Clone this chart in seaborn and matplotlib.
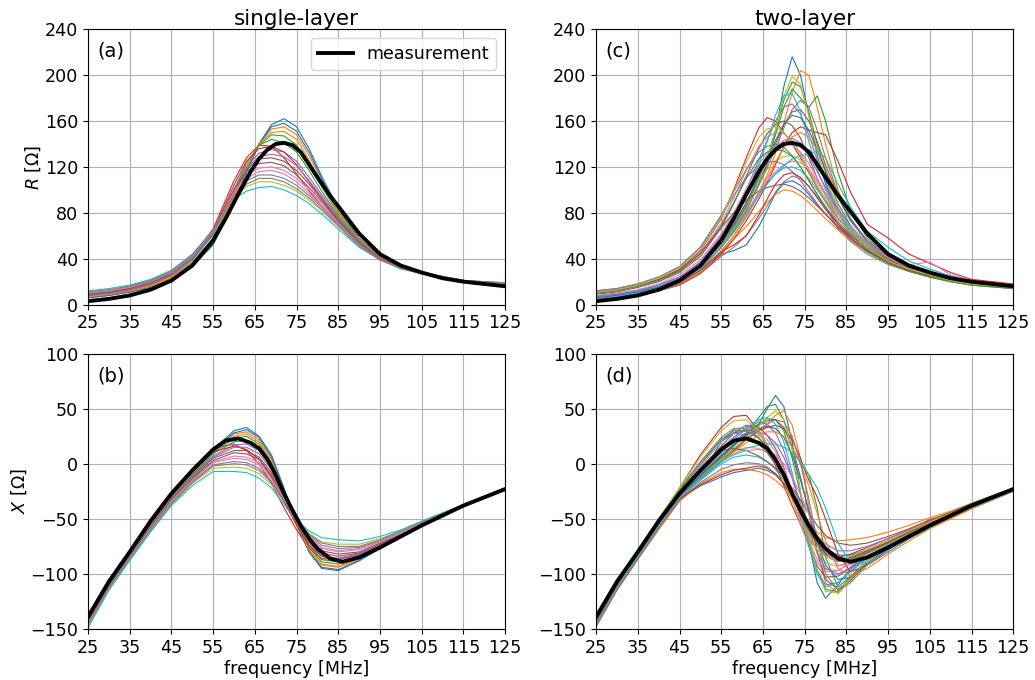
import matplotlib
matplotlib.use("Agg")
import matplotlib.pyplot as plt
import seaborn as sns
import pandas as pd

# frequency grids [MHz]
freq_single = [25, 30, 35, 40, 45, 50, 55, 60, 63, 66, 69, 72, 75, 78, 81, 85, 90, 95, 100, 105, 115, 125]
freq_two = [25, 30, 35, 40, 45, 50, 55, 58, 61, 64, 66, 68, 70, 72, 74, 76, 78, 80, 83, 86, 90, 95, 100, 105, 110, 115, 125]

# measured impedance (on freq_two)
meas_R = [3, 5, 8, 13, 21, 34, 56, 75, 96, 116, 127, 135, 140, 141, 139, 133, 122, 111, 95, 81, 62, 44, 34, 28, 23, 20, 16]
meas_X = [-139, -107, -80, -52, -27, -6, 13, 21, 23, 19, 14, 4, -10, -27, -42, -56, -68, -77, -86, -89, -85, -76, -66, -56, -47, -38, -23]

# single-layer ensemble (on freq_single)
single_R = [
    [6, 8, 11, 15, 22, 33, 52, 88, 115, 140, 157, 162, 155, 136, 112, 84, 58, 42, 33, 28, 21, 18],
    [7, 9, 12, 16, 23, 35, 55, 92, 118, 140, 153, 155, 148, 130, 108, 81, 57, 41, 33, 28, 21, 18],
    [8, 10, 13, 17, 25, 37, 58, 96, 120, 139, 148, 147, 139, 122, 103, 79, 56, 41, 33, 28, 21, 18],
    [9, 11, 14, 19, 28, 42, 66, 108, 128, 139, 138, 128, 114, 99, 86, 71, 53, 40, 32, 27, 20, 17],
    [8, 10, 13, 18, 26, 39, 61, 99, 120, 132, 135, 133, 125, 111, 96, 76, 55, 40, 32, 27, 21, 18],
    [9, 11, 14, 19, 27, 41, 63, 100, 118, 127, 128, 125, 117, 105, 92, 74, 54, 40, 32, 27, 21, 18],
    [10, 12, 15, 20, 28, 42, 64, 99, 113, 119, 120, 117, 110, 100, 88, 72, 53, 40, 32, 27, 21, 18],
    [10, 12, 16, 21, 29, 43, 65, 97, 108, 113, 113, 110, 104, 95, 85, 70, 52, 39, 32, 27, 21, 18],
    [11, 13, 16, 21, 29, 43, 65, 94, 103, 107, 107, 104, 99, 91, 82, 68, 51, 39, 32, 27, 21, 19],
    [12, 14, 17, 22, 30, 44, 65, 92, 99, 102, 103, 100, 95, 88, 79, 66, 50, 39, 31, 27, 21, 19],
    [6, 8, 11, 15, 22, 34, 53, 90, 116, 140, 155, 158, 151, 133, 110, 83, 57, 41, 33, 28, 21, 18],
    [7, 9, 12, 16, 24, 36, 57, 94, 119, 140, 150, 151, 144, 126, 105, 80, 57, 41, 33, 28, 21, 18],
    [8, 10, 13, 18, 26, 39, 61, 100, 123, 139, 144, 141, 133, 117, 99, 77, 55, 40, 32, 27, 21, 18],
    [9, 11, 14, 19, 27, 41, 64, 104, 125, 136, 138, 133, 122, 107, 92, 73, 54, 40, 32, 27, 21, 17],
    [8, 10, 13, 18, 26, 40, 62, 100, 119, 129, 131, 129, 121, 108, 94, 75, 54, 40, 32, 27, 21, 18],
    [9, 11, 15, 20, 28, 42, 64, 100, 116, 123, 124, 121, 113, 102, 90, 73, 53, 40, 32, 27, 21, 18],
    [10, 12, 15, 20, 28, 42, 64, 98, 110, 116, 117, 114, 107, 97, 86, 71, 52, 39, 32, 27, 21, 18],
    [11, 13, 16, 21, 29, 43, 65, 95, 105, 110, 110, 107, 101, 93, 83, 69, 51, 39, 32, 27, 21, 19],
]
single_X = [
    [-142, -110, -82, -55, -30, -8, 13, 30, 33, 25, 8, -22, -55, -80, -95, -97, -88, -77, -66, -56, -38, -22],
    [-142, -110, -82, -55, -30, -9, 12, 27, 29, 22, 4, -25, -55, -79, -92, -94, -87, -76, -66, -56, -38, -22],
    [-143, -110, -83, -56, -31, -10, 10, 23, 25, 18, 1, -25, -53, -76, -89, -91, -85, -75, -65, -55, -38, -22],
    [-141, -108, -80, -53, -28, -6, 14, 18, 12, 0, -18, -40, -60, -77, -86, -87, -82, -74, -65, -55, -37, -22],
    [-143, -111, -83, -57, -32, -12, 7, 17, 18, 12, -3, -26, -52, -72, -84, -87, -83, -74, -65, -55, -38, -22],
    [-144, -112, -84, -58, -33, -13, 5, 12, 12, 6, -8, -28, -52, -70, -81, -84, -81, -73, -64, -55, -38, -22],
    [-145, -112, -85, -59, -34, -15, 2, 7, 6, 1, -12, -31, -52, -68, -77, -80, -78, -71, -63, -54, -37, -22],
    [-146, -113, -86, -60, -35, -16, -1, 2, 1, -4, -16, -33, -51, -65, -74, -77, -76, -70, -62, -54, -37, -22],
    [-147, -114, -87, -61, -37, -18, -4, -3, -4, -9, -19, -35, -51, -63, -71, -73, -73, -68, -61, -53, -37, -22],
    [-149, -115, -88, -62, -38, -20, -7, -7, -8, -13, -22, -37, -51, -61, -67, -69, -70, -66, -60, -52, -37, -22],
    [-142, -110, -82, -55, -30, -8, 13, 28, 31, 24, 6, -24, -55, -80, -94, -96, -88, -77, -66, -56, -38, -22],
    [-142, -110, -82, -55, -30, -9, 11, 25, 27, 20, 3, -25, -54, -78, -91, -93, -86, -76, -66, -56, -38, -22],
    [-143, -110, -83, -56, -31, -11, 9, 20, 21, 15, -1, -26, -53, -74, -87, -89, -84, -75, -65, -55, -38, -22],
    [-142, -109, -81, -54, -29, -8, 11, 16, 13, 4, -12, -34, -56, -74, -84, -86, -82, -74, -65, -55, -37, -22],
    [-144, -111, -83, -57, -32, -12, 6, 15, 15, 9, -5, -27, -52, -71, -83, -86, -82, -74, -65, -55, -38, -22],
    [-144, -112, -84, -58, -33, -14, 3, 10, 9, 4, -10, -30, -52, -69, -79, -82, -80, -72, -64, -55, -38, -22],
    [-145, -113, -85, -59, -34, -15, 1, 5, 4, -1, -14, -32, -51, -66, -76, -79, -77, -71, -63, -54, -37, -22],
    [-146, -113, -86, -60, -36, -17, -2, 0, -1, -6, -17, -34, -51, -64, -72, -75, -75, -69, -61, -53, -37, -22],
]

# two-layer ensemble (on freq_two)
two_R = [
    [5, 7, 10, 14, 20, 31, 50, 64, 82, 105, 122, 150, 190, 216, 200, 165, 130, 105, 80, 63, 48, 37, 30, 25, 21, 19, 16],
    [4, 6, 9, 13, 18, 28, 46, 60, 77, 98, 113, 132, 158, 185, 204, 200, 172, 140, 100, 75, 55, 41, 32, 26, 22, 19, 16],
    [6, 8, 11, 15, 22, 34, 55, 70, 88, 110, 126, 148, 172, 188, 180, 172, 182, 160, 115, 82, 58, 42, 33, 27, 22, 19, 16],
    [11, 13, 17, 22, 31, 47, 75, 100, 128, 154, 163, 160, 150, 140, 128, 115, 102, 90, 75, 63, 50, 39, 32, 27, 22, 19, 15],
    [7, 9, 12, 17, 24, 37, 60, 78, 100, 126, 143, 160, 172, 175, 166, 148, 126, 107, 84, 67, 51, 39, 31, 26, 22, 19, 16],
    [9, 11, 15, 20, 28, 42, 67, 88, 112, 136, 149, 157, 160, 156, 145, 128, 110, 95, 76, 62, 48, 37, 30, 25, 21, 18, 15],
    [10, 12, 16, 21, 30, 45, 71, 93, 117, 138, 146, 150, 149, 143, 132, 118, 103, 89, 72, 59, 46, 36, 29, 24, 20, 17, 14],
    [12, 14, 18, 24, 33, 50, 78, 98, 118, 133, 138, 140, 137, 130, 120, 108, 96, 85, 66, 55, 44, 35, 29, 24, 20, 17, 14],
    [6, 8, 11, 15, 22, 34, 55, 71, 89, 108, 118, 125, 129, 130, 126, 118, 107, 95, 79, 66, 52, 40, 32, 27, 22, 19, 16],
    [5, 7, 10, 14, 20, 31, 50, 64, 80, 97, 106, 114, 119, 120, 117, 110, 100, 90, 76, 64, 51, 40, 32, 27, 22, 19, 16],
    [4, 6, 9, 13, 19, 30, 44, 47, 52, 68, 82, 97, 106, 108, 104, 96, 87, 79, 67, 58, 47, 38, 31, 26, 22, 19, 16],
    [3, 5, 8, 12, 18, 29, 46, 57, 68, 81, 89, 96, 100, 99, 95, 89, 82, 75, 65, 56, 46, 37, 30, 25, 21, 18, 15],
    [5, 7, 10, 14, 20, 31, 51, 66, 85, 110, 128, 152, 178, 194, 190, 168, 140, 115, 88, 69, 52, 40, 32, 26, 22, 19, 16],
    [4, 6, 8, 12, 17, 27, 44, 57, 73, 92, 106, 122, 138, 150, 155, 152, 150, 148, 125, 98, 70, 58, 44, 36, 28, 22, 18],
    [12, 14, 18, 24, 33, 50, 77, 95, 111, 121, 124, 125, 122, 116, 108, 98, 88, 79, 67, 57, 46, 37, 30, 25, 21, 18, 15],
    [6, 8, 11, 15, 21, 33, 53, 68, 86, 108, 123, 140, 157, 168, 170, 160, 142, 122, 95, 74, 55, 41, 32, 27, 22, 19, 16],
    [8, 10, 13, 18, 26, 39, 62, 80, 101, 122, 132, 138, 140, 139, 133, 123, 110, 97, 80, 66, 52, 42, 35, 37, 26, 21, 17],
    [3, 5, 8, 12, 17, 27, 42, 50, 60, 75, 86, 98, 107, 112, 110, 103, 94, 85, 72, 61, 50, 40, 32, 27, 22, 19, 16],
    [5, 7, 10, 14, 20, 31, 50, 65, 84, 108, 126, 152, 182, 199, 192, 165, 135, 110, 85, 67, 51, 39, 31, 26, 22, 19, 16],
    [7, 9, 12, 16, 23, 35, 57, 74, 95, 122, 142, 165, 182, 184, 168, 142, 118, 100, 80, 65, 50, 39, 31, 26, 22, 19, 16],
    [6, 8, 11, 15, 22, 34, 55, 70, 89, 112, 127, 143, 157, 165, 163, 152, 135, 117, 93, 73, 55, 41, 32, 27, 22, 19, 16],
    [4, 6, 9, 13, 19, 29, 47, 60, 76, 96, 110, 124, 137, 146, 150, 146, 135, 120, 98, 80, 60, 45, 35, 29, 24, 20, 17],
    [10, 12, 16, 21, 29, 44, 69, 89, 110, 127, 133, 135, 134, 129, 120, 108, 96, 85, 70, 58, 46, 36, 29, 24, 20, 17, 14],
    [4, 6, 9, 13, 19, 30, 46, 52, 60, 78, 92, 105, 113, 115, 111, 103, 93, 83, 70, 60, 49, 39, 31, 26, 22, 19, 16],
    [7, 9, 12, 17, 24, 37, 59, 76, 96, 118, 129, 137, 143, 145, 141, 130, 116, 102, 83, 68, 53, 41, 32, 27, 22, 19, 16],
    [11, 13, 17, 22, 30, 45, 67, 80, 91, 99, 102, 104, 105, 103, 99, 93, 86, 79, 68, 58, 47, 37, 30, 25, 21, 18, 15],
    [5, 7, 10, 14, 20, 31, 50, 64, 80, 98, 108, 116, 122, 125, 124, 118, 108, 97, 81, 68, 54, 41, 33, 27, 22, 19, 16],
    [5, 7, 10, 14, 20, 31, 50, 64, 82, 104, 119, 136, 154, 170, 178, 172, 152, 128, 97, 75, 56, 42, 33, 27, 22, 19, 16],
    [11, 13, 17, 23, 32, 48, 76, 98, 124, 146, 153, 155, 150, 141, 130, 117, 104, 92, 76, 63, 49, 38, 31, 26, 21, 18, 15],
    [5, 7, 10, 14, 20, 31, 50, 63, 78, 95, 105, 114, 121, 127, 130, 131, 134, 128, 105, 85, 64, 50, 38, 31, 25, 20, 17],
]
two_X = [
    [-145, -112, -84, -56, -31, -12, 20, 28, 30, 36, 50, 62, 52, 20, -25, -72, -108, -122, -110, -95, -84, -74, -64, -55, -46, -38, -24],
    [-146, -113, -85, -57, -32, -14, 2, 12, 22, 30, 36, 44, 48, 35, 5, -38, -80, -108, -118, -105, -88, -75, -64, -54, -46, -38, -24],
    [-144, -111, -83, -55, -29, -10, 8, 18, 28, 42, 52, 54, 40, 15, 0, -10, -40, -85, -112, -102, -88, -76, -65, -55, -46, -38, -23],
    [-141, -108, -79, -50, -22, 8, 33, 43, 44, 30, 15, -2, -20, -38, -55, -68, -78, -83, -85, -82, -76, -68, -60, -52, -45, -37, -23],
    [-144, -111, -83, -55, -29, -9, 10, 22, 32, 38, 36, 28, 12, -12, -42, -72, -97, -110, -108, -98, -86, -75, -64, -55, -46, -38, -24],
    [-143, -110, -82, -53, -26, -5, 16, 28, 35, 33, 26, 14, -3, -25, -50, -75, -93, -103, -102, -94, -84, -74, -64, -55, -46, -38, -24],
    [-142, -109, -80, -52, -25, -3, 20, 31, 34, 27, 18, 4, -13, -33, -55, -75, -90, -98, -97, -90, -82, -73, -63, -54, -46, -37, -23],
    [-141, -108, -79, -51, -23, 2, 24, 32, 32, 24, 15, 3, -12, -28, -45, -60, -72, -81, -87, -86, -80, -71, -62, -53, -45, -37, -23],
    [-145, -112, -84, -56, -30, -12, 4, 11, 15, 14, 10, 2, -10, -26, -45, -64, -80, -90, -93, -89, -81, -72, -63, -54, -46, -38, -24],
    [-146, -113, -85, -57, -32, -15, 0, 6, 8, 6, 2, -5, -15, -28, -43, -58, -71, -80, -86, -85, -79, -71, -62, -53, -45, -37, -23],
    [-147, -114, -86, -58, -32, -20, -12, -8, -6, -4, -6, -10, -18, -29, -42, -56, -68, -77, -83, -83, -78, -70, -62, -53, -45, -37, -23],
    [-148, -115, -87, -60, -34, -18, -8, -5, -5, -7, -10, -15, -22, -32, -43, -54, -62, -67, -70, -69, -67, -62, -56, -49, -43, -36, -22],
    [-145, -112, -84, -56, -30, -12, 5, 16, 27, 36, 41, 40, 30, 5, -28, -65, -97, -114, -116, -103, -88, -75, -64, -55, -46, -38, -24],
    [-146, -113, -85, -57, -31, -14, 2, 12, 22, 30, 33, 35, 32, 22, 5, -15, -30, -50, -82, -98, -92, -80, -68, -58, -49, -40, -25],
    [-141, -108, -79, -51, -23, 1, 22, 28, 26, 18, 10, -1, -13, -27, -41, -54, -65, -73, -79, -79, -75, -68, -60, -52, -45, -37, -23],
    [-145, -112, -84, -56, -30, -11, 6, 17, 27, 35, 39, 40, 33, 15, -12, -45, -80, -105, -114, -106, -90, -77, -66, -56, -47, -39, -24],
    [-144, -111, -82, -54, -27, -6, 14, 25, 30, 28, 22, 11, -5, -25, -48, -70, -87, -96, -97, -90, -81, -72, -62, -50, -47, -39, -24],
    [-147, -114, -86, -58, -33, -17, -5, -1, 1, 0, -3, -9, -18, -31, -46, -61, -74, -84, -89, -87, -80, -71, -62, -53, -45, -37, -23],
    [-145, -112, -84, -56, -30, -12, 4, 14, 24, 34, 42, 48, 40, 12, -25, -65, -98, -116, -117, -104, -88, -75, -64, -55, -46, -38, -24],
    [-144, -111, -83, -55, -28, -8, 12, 24, 33, 40, 42, 36, 20, -8, -42, -75, -100, -112, -108, -97, -85, -74, -64, -55, -46, -38, -24],
    [-145, -112, -84, -56, -30, -11, 7, 17, 26, 32, 34, 32, 24, 8, -15, -42, -70, -92, -105, -103, -91, -78, -66, -56, -47, -39, -24],
    [-146, -113, -85, -57, -32, -14, 2, 11, 19, 26, 29, 29, 25, 15, 0, -20, -45, -70, -95, -102, -95, -82, -70, -59, -50, -41, -25],
    [-142, -109, -80, -52, -24, -1, 22, 30, 30, 23, 15, 4, -10, -26, -44, -60, -73, -82, -88, -87, -81, -72, -62, -53, -45, -37, -23],
    [-147, -114, -86, -58, -32, -19, -10, -6, -4, -2, -4, -9, -18, -31, -45, -60, -72, -81, -86, -85, -79, -71, -62, -53, -45, -37, -23],
    [-144, -111, -83, -55, -28, -8, 11, 21, 28, 29, 26, 19, 6, -13, -36, -60, -81, -95, -100, -95, -85, -75, -64, -55, -46, -38, -24],
    [-143, -110, -81, -53, -26, -5, 12, 14, 12, 7, 2, -4, -12, -22, -33, -45, -56, -65, -72, -74, -72, -66, -59, -51, -44, -36, -22],
    [-146, -113, -85, -57, -31, -14, 2, 8, 12, 13, 12, 8, 0, -12, -28, -46, -64, -80, -92, -92, -85, -75, -65, -55, -46, -38, -24],
    [-145, -112, -84, -56, -31, -13, 3, 13, 22, 31, 36, 40, 38, 25, 0, -32, -70, -100, -115, -108, -92, -78, -66, -56, -47, -39, -24],
    [-141, -108, -79, -50, -22, 6, 30, 39, 40, 30, 18, 3, -14, -33, -52, -67, -78, -84, -87, -84, -78, -70, -61, -53, -45, -37, -23],
    [-146, -113, -85, -57, -31, -14, 2, 9, 14, 17, 18, 18, 15, 10, 2, -10, -22, -40, -72, -90, -90, -80, -68, -58, -48, -40, -25],
]

freq_ticks = list(range(25, 126, 10))
R_ticks = list(range(0, 241, 40))
X_ticks = list(range(-150, 101, 50))


def to_long(freq, members, name):
    rows = []
    for i, vals in enumerate(members):
        for f, v in zip(freq, vals):
            rows.append({"freq": f, name: v, "member": i})
    return pd.DataFrame(rows)


plt.rcParams["font.size"] = 12.6
fig, axes = plt.subplots(2, 2, figsize=(10.35, 6.8), dpi=100)
fig.subplots_adjust(left=0.085, right=0.979, bottom=0.075, top=0.957, wspace=0.218, hspace=0.178)

panels = [
    (axes[0, 0], freq_single, single_R, "R", meas_R, "(a)"),
    (axes[1, 0], freq_single, single_X, "X", meas_X, "(b)"),
    (axes[0, 1], freq_two, two_R, "R", meas_R, "(c)"),
    (axes[1, 1], freq_two, two_X, "X", meas_X, "(d)"),
]

for ax, freq, members, name, meas, tag in panels:
    df = to_long(freq, members, name)
    pal = sns.color_palette("tab10", len(members))
    sns.lineplot(data=df, x="freq", y=name, hue="member", palette=pal, estimator=None,
                 errorbar=None, lw=0.8, legend=False, ax=ax)
    sns.lineplot(x=freq_two, y=meas, color="black", lw=2.8, ax=ax,
                 label="measurement" if tag == "(a)" else None, legend=(tag == "(a)"))
    ax.set_xlim(25, 125)
    ax.set_xticks(freq_ticks)
    if name == "R":
        ax.set_ylim(0, 240)
        ax.set_yticks(R_ticks)
    else:
        ax.set_ylim(-150, 100)
        ax.set_yticks(X_ticks)
    ax.grid(True, color="#b0b0b0", lw=0.8)
    ax.set_axisbelow(True)
    ax.text(0.022, 0.955, tag, transform=ax.transAxes, va="top", ha="left", fontsize=14)
    ax.set_xlabel("")
    ax.set_ylabel("")

axes[0, 0].set_ylabel(r"$R$ [$\Omega$]", labelpad=1)
axes[1, 0].set_ylabel(r"$X$ [$\Omega$]", labelpad=1)
axes[1, 0].set_xlabel("frequency [MHz]", labelpad=2)
axes[1, 1].set_xlabel("frequency [MHz]", labelpad=2)
axes[0, 0].set_title("single-layer", fontsize=15.5, pad=3)
axes[0, 1].set_title("two-layer", fontsize=15.5, pad=3)
axes[0, 0].legend(loc="upper right", fontsize=12.6)

fig.savefig("out.png", dpi=100)
plt.close(fig)
